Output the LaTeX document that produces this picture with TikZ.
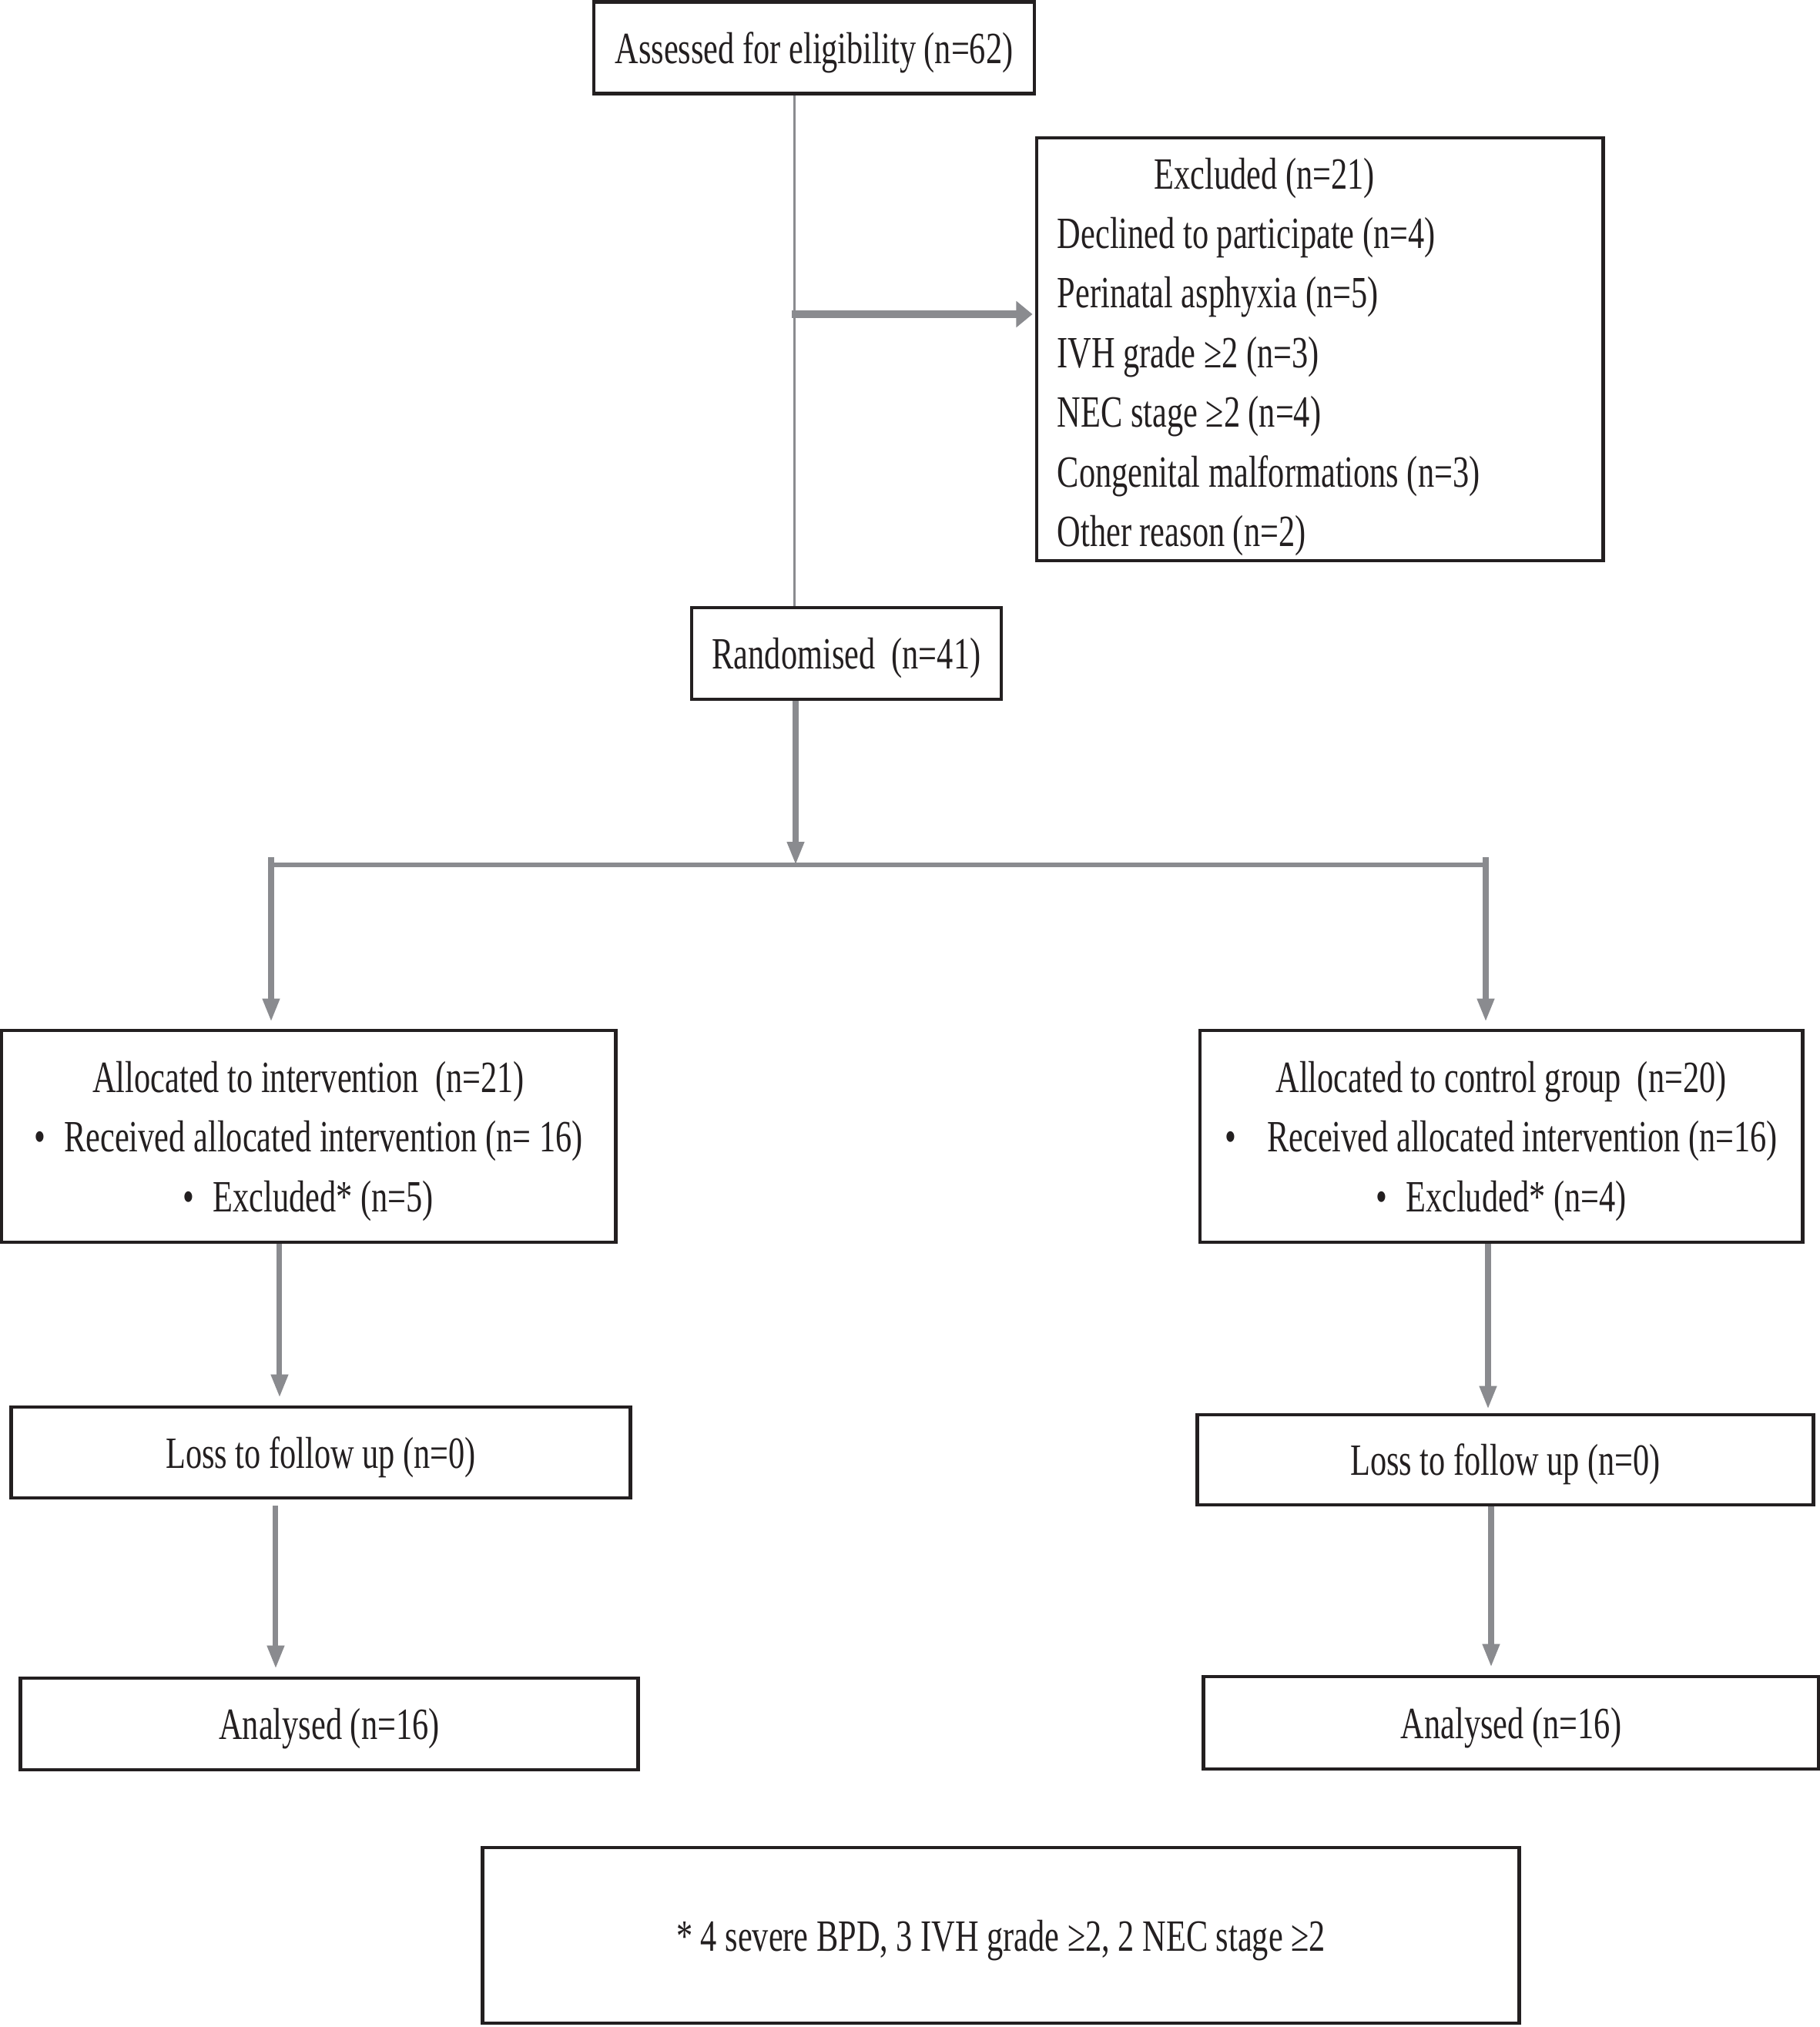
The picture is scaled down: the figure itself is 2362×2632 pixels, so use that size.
\documentclass[tikz,border=0pt]{standalone}
\usepackage{fontspec}
\setmainfont{Liberation Serif}[FakeStretch=0.73]
\usetikzlibrary{arrows.meta}
\definecolor{flowgray}{RGB}{138,139,143}
\definecolor{inkblack}{RGB}{35,31,32}

\begin{document}
\begin{tikzpicture}[x=0.01cm, y=-0.01cm,
  flowbox/.style={draw=inkblack, line width=1.3pt, inner sep=0pt, align=center,
    text=inkblack, text depth=0pt, font=\fontsize{16.5}{22}\selectfont},
  thinline/.style={flowgray, line width=0.85pt},
  flowarrow/.style={flowgray, line width=2pt, -{Triangle[length=3mm,width=2.1mm]}},
  exclarrow/.style={flowgray, line width=3.1pt, -{Triangle[length=2.1mm,width=3.3mm]}}]

  \useasboundingbox (0,0) rectangle (2362,2632);

  \node[flowbox, minimum width=5.72cm, minimum height=1.19cm] (assess) at (1057,62) {Assessed for eligibility (n=62)};
  \node[flowbox, text depth={}, minimum width=7.35cm, minimum height=5.49cm, text width=6.81cm, inner xsep=0.27cm, align=flush left] (excl) at (1713.5,453.5)
    {\rule{0pt}{0.6cm}\hspace*{1.26cm}Excluded (n=21)\\
     Declined to participate (n=4)\\
     Perinatal asphyxia (n=5)\\
     IVH grade ≥2 (n=3)\\
     NEC stage ≥2 (n=4)\\
     Congenital malformations (n=3)\\
     Other reason (n=2)};
  \node[flowbox, minimum width=4.02cm, minimum height=1.19cm] (rand) at (1099,848.5) {Randomised~ (n=41)};

  \node[flowbox, minimum width=7.97cm, minimum height=2.75cm] (allocL) at (400.5,1475.5)
    {Allocated to intervention~ (n=21)\\
     •\hspace{0.24cm}Received allocated intervention (n= 16)\\
     •\hspace{0.24cm}Excluded* (n=5)};
  \node[flowbox, minimum width=7.82cm, minimum height=2.75cm] (allocR) at (1949,1475.5)
    {Allocated to control group~ (n=20)\\
     •\hspace{0.4cm}Received allocated intervention (n=16)\\
     •\hspace{0.24cm}Excluded* (n=4)};

  \node[flowbox, minimum width=8.03cm, minimum height=1.18cm] (lossL) at (416.5,1886) {Loss to follow up (n=0)};
  \node[flowbox, minimum width=7.99cm, minimum height=1.17cm] (lossR) at (1954.5,1895.5) {Loss to follow up (n=0)};
  \node[flowbox, minimum width=8.01cm, minimum height=1.19cm] (analL) at (427.5,2238.5) {Analysed (n=16)};
  \node[flowbox, minimum width=7.98cm, minimum height=1.20cm] (analR) at (1962,2237) {Analysed (n=16)};

  \node[flowbox, minimum width=13.45cm, minimum height=2.28cm] (note) at (1299.5,2513) {* 4 severe BPD, 3 IVH grade ≥2, 2 NEC stage ≥2};

  \coordinate (trunk) at (1031,408);
  \coordinate (split) at (1033,1123);
  \coordinate (splitL) at (352,1113);
  \coordinate (splitR) at (1929,1113);

  \draw[thinline] (assess.south -| trunk) -- (rand.north -| trunk);
  \draw[exclarrow, shorten >=0.3mm] ([xshift=-0.03cm]trunk) -- (trunk -| excl.west);

  \draw[flowarrow] (rand.south -| split) -- (split);
  \draw[flowgray, line width=1.5pt] (splitL |- split) -- (splitR |- split);
  \draw[flowarrow, shorten >=0.9mm] (splitL) -- (splitL |- allocL.north);
  \draw[flowarrow, shorten >=0.9mm] (splitR) -- (splitR |- allocR.north);

  \draw[flowarrow, shorten >=1mm] ([xshift=-0.375cm]allocL.south) -- ([xshift=-0.375cm]allocL.south |- lossL.north);
  \draw[flowarrow, shorten <=0.8mm, shorten >=1mm] ([xshift=-0.585cm]lossL.south) -- ([xshift=-0.585cm]lossL.south |- analL.north);
  \draw[flowarrow, shorten >=0.5mm] ([xshift=-0.17cm]allocR.south) -- ([xshift=-0.17cm]allocR.south |- lossR.north);
  \draw[flowarrow, shorten >=1mm] ([xshift=-0.185cm]lossR.south) -- ([xshift=-0.185cm]lossR.south |- analR.north);

\end{tikzpicture}
\end{document}
